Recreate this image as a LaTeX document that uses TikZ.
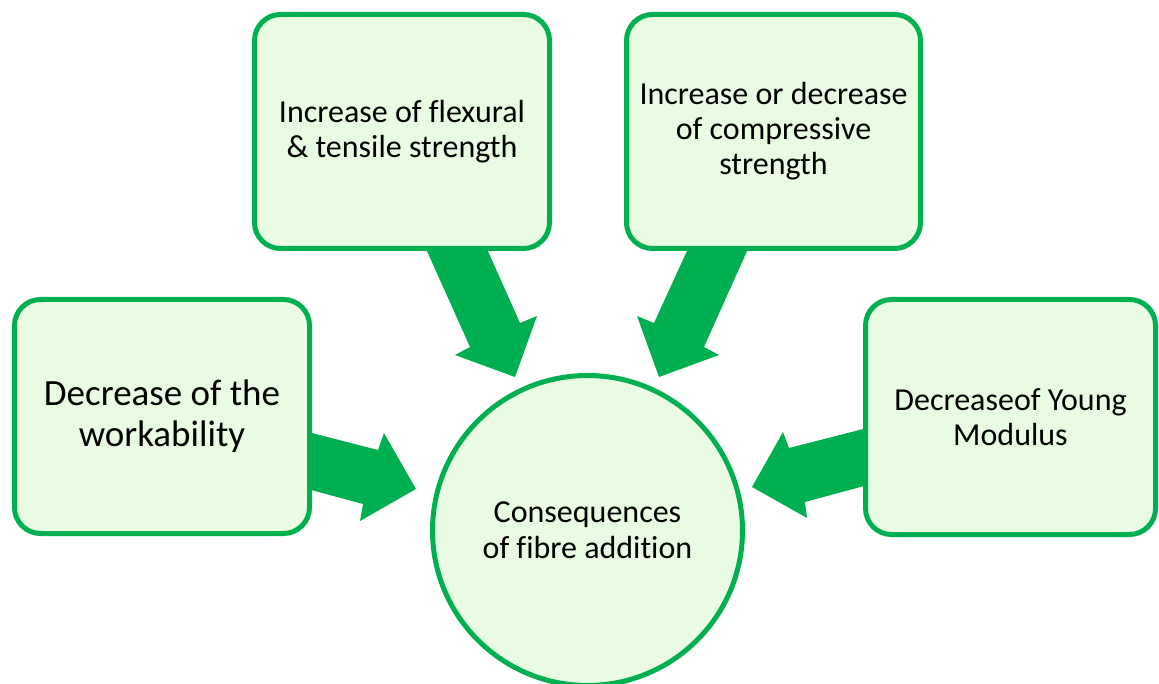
\documentclass[tikz,border=0pt]{standalone}
\usepackage{fontspec}
\setmainfont[Ligatures=NoCommon]{Carlito}
\definecolor{grn}{HTML}{00B050}
\definecolor{lgrn}{HTML}{EAFBE4}
\begin{document}
\begin{tikzpicture}[x=1pt,y=-1pt,
  box/.style={draw=grn, fill=lgrn, line width=5pt, rounded corners=26pt,
    inner sep=0pt, align=center, font=\fontsize{32}{35}\selectfont},
  hub/.style={circle, draw=grn, fill=lgrn, line width=5pt, inner sep=0pt,
    minimum size=310pt, align=center, font=\fontsize{32}{36}\selectfont},
  blockarrow/.style={fill=grn, draw=none}]
\useasboundingbox (0,0) rectangle (1159,684);
% block arrows (behind the boxes)
\fill[blockarrow] (422,240) -- (470,347) -- (455,355) -- (515,377) -- (537,316) -- (520,323) -- (483,240) -- cycle;
\fill[blockarrow] (752,240) -- (704,347) -- (719,355) -- (659,377) -- (637,316) -- (654,323) -- (692,240) -- cycle;
\fill[blockarrow] (300,430) -- (378,450) -- (384,433) -- (416,489) -- (360,521) -- (363,504) -- (300,487) -- cycle;
\fill[blockarrow] (875,426) -- (789,448) -- (783,432) -- (752,487) -- (807,518) -- (805,502) -- (875,483) -- cycle;
% boxes
\node[box, minimum width=295pt, minimum height=234pt] (flex) at (402,131.5)
  {Increase of flexural\\ \& tensile strength};
\node[box, minimum width=294pt, minimum height=234pt] (comp) at (773.5,131.5)
  {Increase or decrease\\ of compressive\\ strength};
\node[box, minimum width=295pt, minimum height=234pt,
  font=\fontsize{37}{41}\selectfont] (work) at (162,416.5)
  {Decrease of the\\ workability};
\node[box, minimum width=290pt, minimum height=235pt] (young) at (1010.5,417)
  {Decreaseof Young\\ Modulus};
\node[hub] (cons) at (587.5,530.5) {Consequences\\ of fibre addition};
\end{tikzpicture}
\end{document}
